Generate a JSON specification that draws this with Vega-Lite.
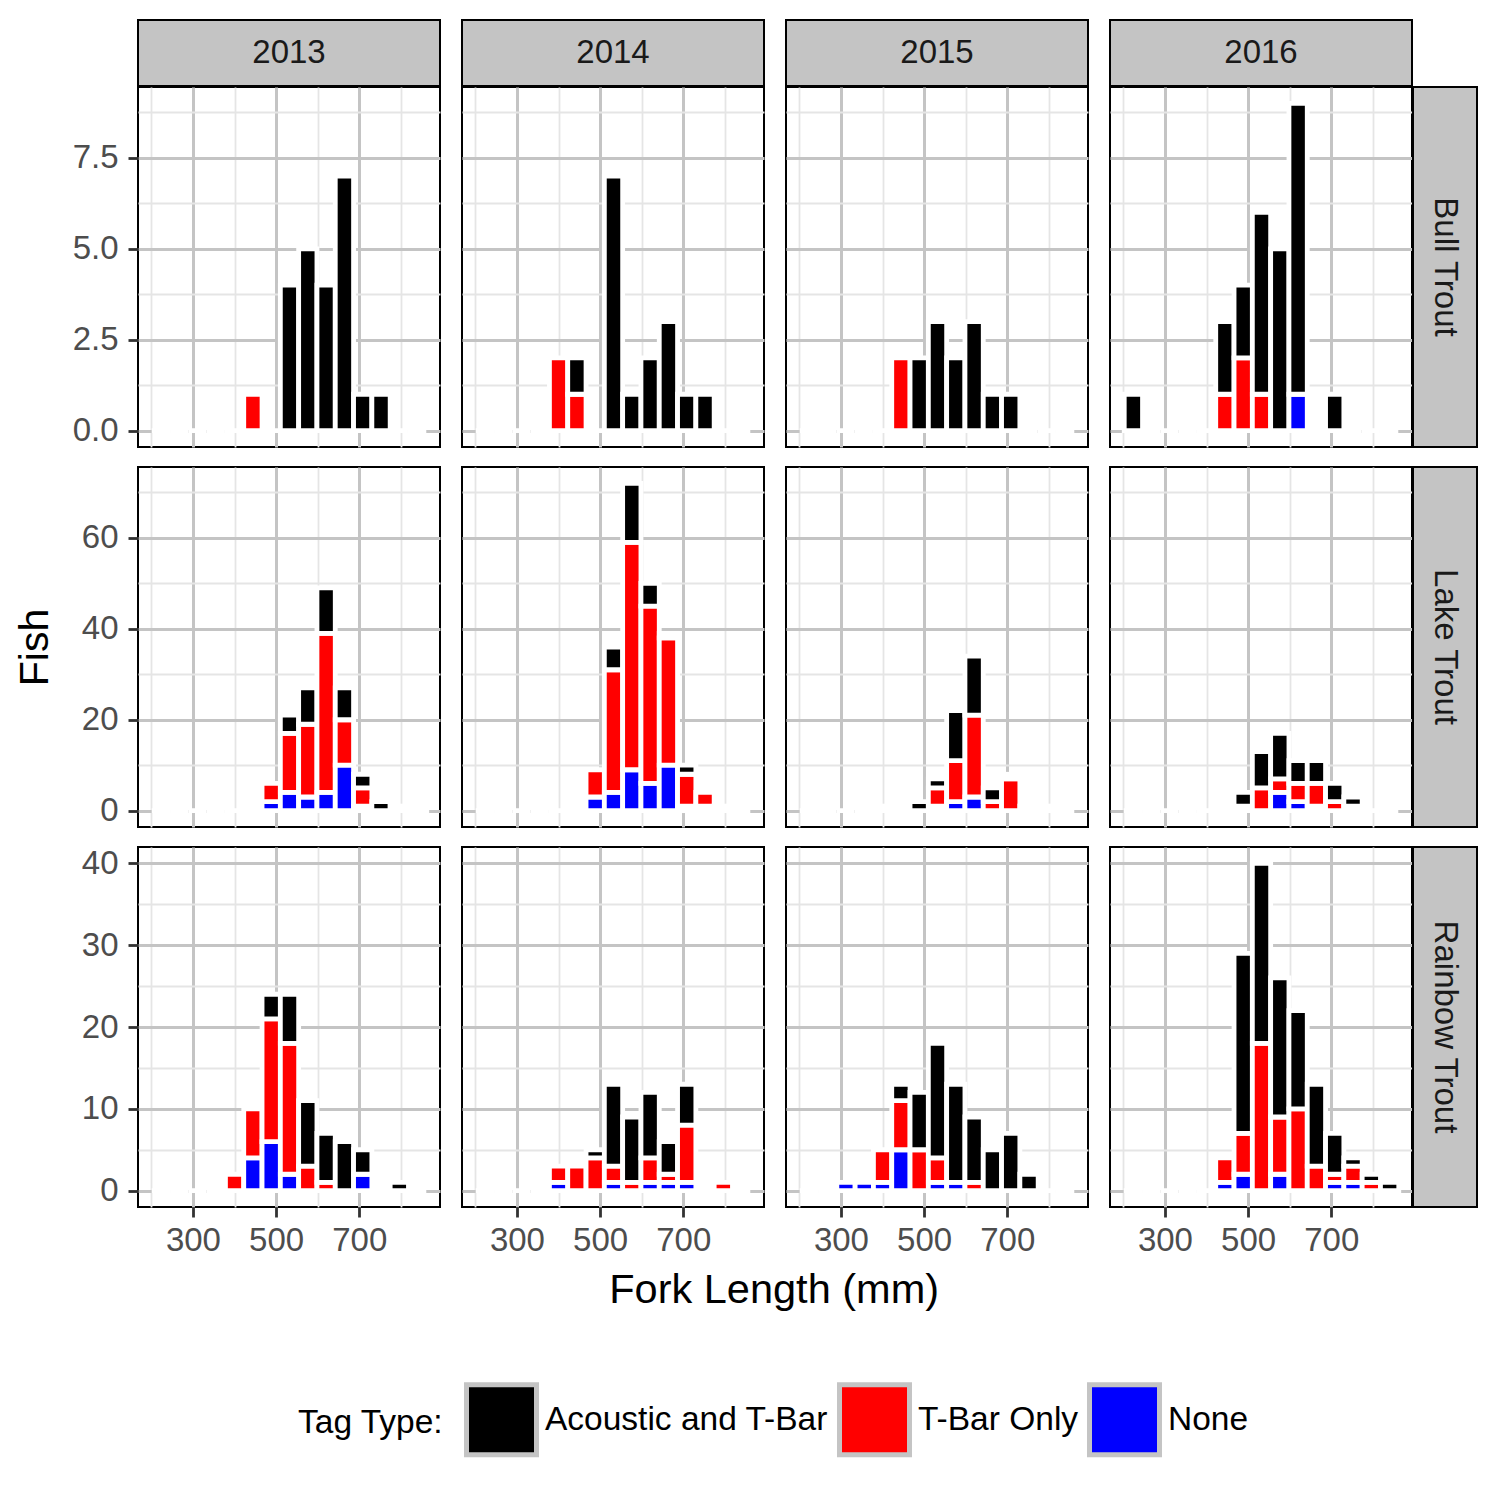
{
  "$schema": "https://vega.github.io/schema/vega-lite/v6.json",
  "background": "white",
  "padding": {"left": 13, "top": 19, "right": 10, "bottom": 10},
  "config": {
    "font": "Liberation Sans",
    "view": {"stroke": "black", "strokeWidth": 2},
    "axis": {
      "labelFont": "Liberation Sans", "labelFontSize": 33, "labelColor": "#4D4D4D",
      "tickColor": "#333333", "tickWidth": 2.8, "tickSize": 10,
      "gridColor": "#C4C4C4", "gridWidth": 3, "domain": false, "labelOverlap": false, "labelFlush": false,
      "titleFont": "Liberation Sans", "titleFontSize": 41, "titleFontWeight": "normal", "titleColor": "#000000", "titlePadding": 25
    },
    "axisX": {"labelPadding": 7},
    "axisY": {"labelPadding": 10},
    "legend": {
      "titleFont": "Liberation Sans", "titleFontSize": 33.5, "titleFontWeight": "normal", "titleColor": "#000000",
      "labelFont": "Liberation Sans", "labelFontSize": 33.5, "labelColor": "#000000",
      "symbolType": "square", "symbolSize": 4900, "symbolStrokeColor": "#C4C4C4", "symbolStrokeWidth": 5,
      "labelOffset": 6, "columnPadding": 0, "titlePadding": 20, "padding": 0, "labelLimit": 0
    },
    "title": {"font": "Liberation Sans", "fontSize": 41, "fontWeight": "normal", "color": "#000000"}
  },
  "datasets": {
    "bins": [
      {"lo": 201, "hi": 245}, {"lo": 245, "hi": 289}, {"lo": 289, "hi": 333}, {"lo": 333, "hi": 377},
      {"lo": 377, "hi": 421}, {"lo": 421, "hi": 465}, {"lo": 465, "hi": 509}, {"lo": 509, "hi": 553},
      {"lo": 553, "hi": 597}, {"lo": 597, "hi": 641}, {"lo": 641, "hi": 685}, {"lo": 685, "hi": 729},
      {"lo": 729, "hi": 773}, {"lo": 773, "hi": 817}, {"lo": 817, "hi": 861}
    ],
    "fish": [
      {"sp": "Bull Trout", "yr": 2013, "tag": "T-Bar Only", "lo": 421, "hi": 465, "n": 1},
      {"sp": "Bull Trout", "yr": 2013, "tag": "Acoustic and T-Bar", "lo": 509, "hi": 553, "n": 4},
      {"sp": "Bull Trout", "yr": 2013, "tag": "Acoustic and T-Bar", "lo": 553, "hi": 597, "n": 5},
      {"sp": "Bull Trout", "yr": 2013, "tag": "Acoustic and T-Bar", "lo": 597, "hi": 641, "n": 4},
      {"sp": "Bull Trout", "yr": 2013, "tag": "Acoustic and T-Bar", "lo": 641, "hi": 685, "n": 7},
      {"sp": "Bull Trout", "yr": 2013, "tag": "Acoustic and T-Bar", "lo": 685, "hi": 729, "n": 1},
      {"sp": "Bull Trout", "yr": 2013, "tag": "Acoustic and T-Bar", "lo": 729, "hi": 773, "n": 1},

      {"sp": "Bull Trout", "yr": 2014, "tag": "T-Bar Only", "lo": 377, "hi": 421, "n": 2},
      {"sp": "Bull Trout", "yr": 2014, "tag": "T-Bar Only", "lo": 421, "hi": 465, "n": 1},
      {"sp": "Bull Trout", "yr": 2014, "tag": "Acoustic and T-Bar", "lo": 421, "hi": 465, "n": 1},
      {"sp": "Bull Trout", "yr": 2014, "tag": "Acoustic and T-Bar", "lo": 509, "hi": 553, "n": 7},
      {"sp": "Bull Trout", "yr": 2014, "tag": "Acoustic and T-Bar", "lo": 553, "hi": 597, "n": 1},
      {"sp": "Bull Trout", "yr": 2014, "tag": "Acoustic and T-Bar", "lo": 597, "hi": 641, "n": 2},
      {"sp": "Bull Trout", "yr": 2014, "tag": "Acoustic and T-Bar", "lo": 641, "hi": 685, "n": 3},
      {"sp": "Bull Trout", "yr": 2014, "tag": "Acoustic and T-Bar", "lo": 685, "hi": 729, "n": 1},
      {"sp": "Bull Trout", "yr": 2014, "tag": "Acoustic and T-Bar", "lo": 729, "hi": 773, "n": 1},

      {"sp": "Bull Trout", "yr": 2015, "tag": "T-Bar Only", "lo": 421, "hi": 465, "n": 2},
      {"sp": "Bull Trout", "yr": 2015, "tag": "Acoustic and T-Bar", "lo": 465, "hi": 509, "n": 2},
      {"sp": "Bull Trout", "yr": 2015, "tag": "Acoustic and T-Bar", "lo": 509, "hi": 553, "n": 3},
      {"sp": "Bull Trout", "yr": 2015, "tag": "Acoustic and T-Bar", "lo": 553, "hi": 597, "n": 2},
      {"sp": "Bull Trout", "yr": 2015, "tag": "Acoustic and T-Bar", "lo": 597, "hi": 641, "n": 3},
      {"sp": "Bull Trout", "yr": 2015, "tag": "Acoustic and T-Bar", "lo": 641, "hi": 685, "n": 1},
      {"sp": "Bull Trout", "yr": 2015, "tag": "Acoustic and T-Bar", "lo": 685, "hi": 729, "n": 1},

      {"sp": "Bull Trout", "yr": 2016, "tag": "Acoustic and T-Bar", "lo": 201, "hi": 245, "n": 1},
      {"sp": "Bull Trout", "yr": 2016, "tag": "T-Bar Only", "lo": 421, "hi": 465, "n": 1},
      {"sp": "Bull Trout", "yr": 2016, "tag": "Acoustic and T-Bar", "lo": 421, "hi": 465, "n": 2},
      {"sp": "Bull Trout", "yr": 2016, "tag": "T-Bar Only", "lo": 465, "hi": 509, "n": 2},
      {"sp": "Bull Trout", "yr": 2016, "tag": "Acoustic and T-Bar", "lo": 465, "hi": 509, "n": 2},
      {"sp": "Bull Trout", "yr": 2016, "tag": "T-Bar Only", "lo": 509, "hi": 553, "n": 1},
      {"sp": "Bull Trout", "yr": 2016, "tag": "Acoustic and T-Bar", "lo": 509, "hi": 553, "n": 5},
      {"sp": "Bull Trout", "yr": 2016, "tag": "Acoustic and T-Bar", "lo": 553, "hi": 597, "n": 5},
      {"sp": "Bull Trout", "yr": 2016, "tag": "None", "lo": 597, "hi": 641, "n": 1},
      {"sp": "Bull Trout", "yr": 2016, "tag": "Acoustic and T-Bar", "lo": 597, "hi": 641, "n": 8},
      {"sp": "Bull Trout", "yr": 2016, "tag": "Acoustic and T-Bar", "lo": 685, "hi": 729, "n": 1},

      {"sp": "Lake Trout", "yr": 2013, "tag": "None", "lo": 421, "hi": 465, "n": 1},
      {"sp": "Lake Trout", "yr": 2013, "tag": "None", "lo": 465, "hi": 509, "n": 2},
      {"sp": "Lake Trout", "yr": 2013, "tag": "T-Bar Only", "lo": 465, "hi": 509, "n": 4},
      {"sp": "Lake Trout", "yr": 2013, "tag": "None", "lo": 509, "hi": 553, "n": 4},
      {"sp": "Lake Trout", "yr": 2013, "tag": "T-Bar Only", "lo": 509, "hi": 553, "n": 13},
      {"sp": "Lake Trout", "yr": 2013, "tag": "Acoustic and T-Bar", "lo": 509, "hi": 553, "n": 4},
      {"sp": "Lake Trout", "yr": 2013, "tag": "None", "lo": 553, "hi": 597, "n": 3},
      {"sp": "Lake Trout", "yr": 2013, "tag": "T-Bar Only", "lo": 553, "hi": 597, "n": 16},
      {"sp": "Lake Trout", "yr": 2013, "tag": "Acoustic and T-Bar", "lo": 553, "hi": 597, "n": 8},
      {"sp": "Lake Trout", "yr": 2013, "tag": "None", "lo": 597, "hi": 641, "n": 4},
      {"sp": "Lake Trout", "yr": 2013, "tag": "T-Bar Only", "lo": 597, "hi": 641, "n": 35},
      {"sp": "Lake Trout", "yr": 2013, "tag": "Acoustic and T-Bar", "lo": 597, "hi": 641, "n": 10},
      {"sp": "Lake Trout", "yr": 2013, "tag": "None", "lo": 641, "hi": 685, "n": 10},
      {"sp": "Lake Trout", "yr": 2013, "tag": "T-Bar Only", "lo": 641, "hi": 685, "n": 10},
      {"sp": "Lake Trout", "yr": 2013, "tag": "Acoustic and T-Bar", "lo": 641, "hi": 685, "n": 7},
      {"sp": "Lake Trout", "yr": 2013, "tag": "None", "lo": 685, "hi": 729, "n": 1},
      {"sp": "Lake Trout", "yr": 2013, "tag": "T-Bar Only", "lo": 685, "hi": 729, "n": 4},
      {"sp": "Lake Trout", "yr": 2013, "tag": "Acoustic and T-Bar", "lo": 685, "hi": 729, "n": 3},
      {"sp": "Lake Trout", "yr": 2013, "tag": "Acoustic and T-Bar", "lo": 729, "hi": 773, "n": 2},
      {"sp": "Lake Trout", "yr": 2013, "tag": "T-Bar Only", "lo": 773, "hi": 817, "n": 1},
      {"sp": "Lake Trout", "yr": 2013, "tag": "T-Bar Only", "lo": 817, "hi": 861, "n": 1},

      {"sp": "Lake Trout", "yr": 2014, "tag": "T-Bar Only", "lo": 421, "hi": 465, "n": 1},
      {"sp": "Lake Trout", "yr": 2014, "tag": "None", "lo": 465, "hi": 509, "n": 3},
      {"sp": "Lake Trout", "yr": 2014, "tag": "T-Bar Only", "lo": 465, "hi": 509, "n": 6},
      {"sp": "Lake Trout", "yr": 2014, "tag": "None", "lo": 509, "hi": 553, "n": 4},
      {"sp": "Lake Trout", "yr": 2014, "tag": "T-Bar Only", "lo": 509, "hi": 553, "n": 27},
      {"sp": "Lake Trout", "yr": 2014, "tag": "Acoustic and T-Bar", "lo": 509, "hi": 553, "n": 5},
      {"sp": "Lake Trout", "yr": 2014, "tag": "None", "lo": 553, "hi": 597, "n": 9},
      {"sp": "Lake Trout", "yr": 2014, "tag": "T-Bar Only", "lo": 553, "hi": 597, "n": 50},
      {"sp": "Lake Trout", "yr": 2014, "tag": "Acoustic and T-Bar", "lo": 553, "hi": 597, "n": 13},
      {"sp": "Lake Trout", "yr": 2014, "tag": "None", "lo": 597, "hi": 641, "n": 6},
      {"sp": "Lake Trout", "yr": 2014, "tag": "T-Bar Only", "lo": 597, "hi": 641, "n": 39},
      {"sp": "Lake Trout", "yr": 2014, "tag": "Acoustic and T-Bar", "lo": 597, "hi": 641, "n": 5},
      {"sp": "Lake Trout", "yr": 2014, "tag": "None", "lo": 641, "hi": 685, "n": 10},
      {"sp": "Lake Trout", "yr": 2014, "tag": "T-Bar Only", "lo": 641, "hi": 685, "n": 28},
      {"sp": "Lake Trout", "yr": 2014, "tag": "Acoustic and T-Bar", "lo": 641, "hi": 685, "n": 1},
      {"sp": "Lake Trout", "yr": 2014, "tag": "None", "lo": 685, "hi": 729, "n": 1},
      {"sp": "Lake Trout", "yr": 2014, "tag": "T-Bar Only", "lo": 685, "hi": 729, "n": 7},
      {"sp": "Lake Trout", "yr": 2014, "tag": "Acoustic and T-Bar", "lo": 685, "hi": 729, "n": 2},
      {"sp": "Lake Trout", "yr": 2014, "tag": "None", "lo": 729, "hi": 773, "n": 1},
      {"sp": "Lake Trout", "yr": 2014, "tag": "T-Bar Only", "lo": 729, "hi": 773, "n": 3},
      {"sp": "Lake Trout", "yr": 2014, "tag": "T-Bar Only", "lo": 773, "hi": 817, "n": 1},

      {"sp": "Lake Trout", "yr": 2015, "tag": "Acoustic and T-Bar", "lo": 377, "hi": 421, "n": 1},
      {"sp": "Lake Trout", "yr": 2015, "tag": "Acoustic and T-Bar", "lo": 465, "hi": 509, "n": 2},
      {"sp": "Lake Trout", "yr": 2015, "tag": "None", "lo": 509, "hi": 553, "n": 1},
      {"sp": "Lake Trout", "yr": 2015, "tag": "T-Bar Only", "lo": 509, "hi": 553, "n": 4},
      {"sp": "Lake Trout", "yr": 2015, "tag": "Acoustic and T-Bar", "lo": 509, "hi": 553, "n": 2},
      {"sp": "Lake Trout", "yr": 2015, "tag": "None", "lo": 553, "hi": 597, "n": 2},
      {"sp": "Lake Trout", "yr": 2015, "tag": "T-Bar Only", "lo": 553, "hi": 597, "n": 9},
      {"sp": "Lake Trout", "yr": 2015, "tag": "Acoustic and T-Bar", "lo": 553, "hi": 597, "n": 11},
      {"sp": "Lake Trout", "yr": 2015, "tag": "None", "lo": 597, "hi": 641, "n": 3},
      {"sp": "Lake Trout", "yr": 2015, "tag": "T-Bar Only", "lo": 597, "hi": 641, "n": 18},
      {"sp": "Lake Trout", "yr": 2015, "tag": "Acoustic and T-Bar", "lo": 597, "hi": 641, "n": 13},
      {"sp": "Lake Trout", "yr": 2015, "tag": "T-Bar Only", "lo": 641, "hi": 685, "n": 2},
      {"sp": "Lake Trout", "yr": 2015, "tag": "Acoustic and T-Bar", "lo": 641, "hi": 685, "n": 3},
      {"sp": "Lake Trout", "yr": 2015, "tag": "T-Bar Only", "lo": 685, "hi": 729, "n": 7},
      {"sp": "Lake Trout", "yr": 2015, "tag": "Acoustic and T-Bar", "lo": 685, "hi": 729, "n": 1},
      {"sp": "Lake Trout", "yr": 2015, "tag": "T-Bar Only", "lo": 729, "hi": 773, "n": 1},
      {"sp": "Lake Trout", "yr": 2015, "tag": "T-Bar Only", "lo": 773, "hi": 817, "n": 1},

      {"sp": "Lake Trout", "yr": 2016, "tag": "T-Bar Only", "lo": 421, "hi": 465, "n": 1},
      {"sp": "Lake Trout", "yr": 2016, "tag": "T-Bar Only", "lo": 465, "hi": 509, "n": 1},
      {"sp": "Lake Trout", "yr": 2016, "tag": "Acoustic and T-Bar", "lo": 465, "hi": 509, "n": 3},
      {"sp": "Lake Trout", "yr": 2016, "tag": "T-Bar Only", "lo": 509, "hi": 553, "n": 5},
      {"sp": "Lake Trout", "yr": 2016, "tag": "Acoustic and T-Bar", "lo": 509, "hi": 553, "n": 8},
      {"sp": "Lake Trout", "yr": 2016, "tag": "None", "lo": 553, "hi": 597, "n": 4},
      {"sp": "Lake Trout", "yr": 2016, "tag": "T-Bar Only", "lo": 553, "hi": 597, "n": 3},
      {"sp": "Lake Trout", "yr": 2016, "tag": "Acoustic and T-Bar", "lo": 553, "hi": 597, "n": 10},
      {"sp": "Lake Trout", "yr": 2016, "tag": "None", "lo": 597, "hi": 641, "n": 2},
      {"sp": "Lake Trout", "yr": 2016, "tag": "T-Bar Only", "lo": 597, "hi": 641, "n": 4},
      {"sp": "Lake Trout", "yr": 2016, "tag": "Acoustic and T-Bar", "lo": 597, "hi": 641, "n": 5},
      {"sp": "Lake Trout", "yr": 2016, "tag": "None", "lo": 641, "hi": 685, "n": 1},
      {"sp": "Lake Trout", "yr": 2016, "tag": "T-Bar Only", "lo": 641, "hi": 685, "n": 5},
      {"sp": "Lake Trout", "yr": 2016, "tag": "Acoustic and T-Bar", "lo": 641, "hi": 685, "n": 5},
      {"sp": "Lake Trout", "yr": 2016, "tag": "T-Bar Only", "lo": 685, "hi": 729, "n": 2},
      {"sp": "Lake Trout", "yr": 2016, "tag": "Acoustic and T-Bar", "lo": 685, "hi": 729, "n": 4},
      {"sp": "Lake Trout", "yr": 2016, "tag": "T-Bar Only", "lo": 729, "hi": 773, "n": 1},
      {"sp": "Lake Trout", "yr": 2016, "tag": "Acoustic and T-Bar", "lo": 729, "hi": 773, "n": 2},

      {"sp": "Rainbow Trout", "yr": 2013, "tag": "T-Bar Only", "lo": 377, "hi": 421, "n": 2},
      {"sp": "Rainbow Trout", "yr": 2013, "tag": "None", "lo": 421, "hi": 465, "n": 4},
      {"sp": "Rainbow Trout", "yr": 2013, "tag": "T-Bar Only", "lo": 421, "hi": 465, "n": 6},
      {"sp": "Rainbow Trout", "yr": 2013, "tag": "None", "lo": 465, "hi": 509, "n": 6},
      {"sp": "Rainbow Trout", "yr": 2013, "tag": "T-Bar Only", "lo": 465, "hi": 509, "n": 15},
      {"sp": "Rainbow Trout", "yr": 2013, "tag": "Acoustic and T-Bar", "lo": 465, "hi": 509, "n": 3},
      {"sp": "Rainbow Trout", "yr": 2013, "tag": "None", "lo": 509, "hi": 553, "n": 2},
      {"sp": "Rainbow Trout", "yr": 2013, "tag": "T-Bar Only", "lo": 509, "hi": 553, "n": 16},
      {"sp": "Rainbow Trout", "yr": 2013, "tag": "Acoustic and T-Bar", "lo": 509, "hi": 553, "n": 6},
      {"sp": "Rainbow Trout", "yr": 2013, "tag": "T-Bar Only", "lo": 553, "hi": 597, "n": 3},
      {"sp": "Rainbow Trout", "yr": 2013, "tag": "Acoustic and T-Bar", "lo": 553, "hi": 597, "n": 8},
      {"sp": "Rainbow Trout", "yr": 2013, "tag": "T-Bar Only", "lo": 597, "hi": 641, "n": 1},
      {"sp": "Rainbow Trout", "yr": 2013, "tag": "Acoustic and T-Bar", "lo": 597, "hi": 641, "n": 6},
      {"sp": "Rainbow Trout", "yr": 2013, "tag": "Acoustic and T-Bar", "lo": 641, "hi": 685, "n": 6},
      {"sp": "Rainbow Trout", "yr": 2013, "tag": "None", "lo": 685, "hi": 729, "n": 2},
      {"sp": "Rainbow Trout", "yr": 2013, "tag": "Acoustic and T-Bar", "lo": 685, "hi": 729, "n": 3},
      {"sp": "Rainbow Trout", "yr": 2013, "tag": "Acoustic and T-Bar", "lo": 773, "hi": 817, "n": 1},

      {"sp": "Rainbow Trout", "yr": 2014, "tag": "None", "lo": 377, "hi": 421, "n": 1},
      {"sp": "Rainbow Trout", "yr": 2014, "tag": "T-Bar Only", "lo": 377, "hi": 421, "n": 2},
      {"sp": "Rainbow Trout", "yr": 2014, "tag": "T-Bar Only", "lo": 421, "hi": 465, "n": 3},
      {"sp": "Rainbow Trout", "yr": 2014, "tag": "T-Bar Only", "lo": 465, "hi": 509, "n": 4},
      {"sp": "Rainbow Trout", "yr": 2014, "tag": "Acoustic and T-Bar", "lo": 465, "hi": 509, "n": 1},
      {"sp": "Rainbow Trout", "yr": 2014, "tag": "None", "lo": 509, "hi": 553, "n": 1},
      {"sp": "Rainbow Trout", "yr": 2014, "tag": "T-Bar Only", "lo": 509, "hi": 553, "n": 2},
      {"sp": "Rainbow Trout", "yr": 2014, "tag": "Acoustic and T-Bar", "lo": 509, "hi": 553, "n": 10},
      {"sp": "Rainbow Trout", "yr": 2014, "tag": "T-Bar Only", "lo": 553, "hi": 597, "n": 1},
      {"sp": "Rainbow Trout", "yr": 2014, "tag": "Acoustic and T-Bar", "lo": 553, "hi": 597, "n": 8},
      {"sp": "Rainbow Trout", "yr": 2014, "tag": "None", "lo": 597, "hi": 641, "n": 1},
      {"sp": "Rainbow Trout", "yr": 2014, "tag": "T-Bar Only", "lo": 597, "hi": 641, "n": 3},
      {"sp": "Rainbow Trout", "yr": 2014, "tag": "Acoustic and T-Bar", "lo": 597, "hi": 641, "n": 8},
      {"sp": "Rainbow Trout", "yr": 2014, "tag": "None", "lo": 641, "hi": 685, "n": 1},
      {"sp": "Rainbow Trout", "yr": 2014, "tag": "T-Bar Only", "lo": 641, "hi": 685, "n": 1},
      {"sp": "Rainbow Trout", "yr": 2014, "tag": "Acoustic and T-Bar", "lo": 641, "hi": 685, "n": 4},
      {"sp": "Rainbow Trout", "yr": 2014, "tag": "None", "lo": 685, "hi": 729, "n": 1},
      {"sp": "Rainbow Trout", "yr": 2014, "tag": "T-Bar Only", "lo": 685, "hi": 729, "n": 7},
      {"sp": "Rainbow Trout", "yr": 2014, "tag": "Acoustic and T-Bar", "lo": 685, "hi": 729, "n": 5},
      {"sp": "Rainbow Trout", "yr": 2014, "tag": "T-Bar Only", "lo": 773, "hi": 817, "n": 1},

      {"sp": "Rainbow Trout", "yr": 2015, "tag": "None", "lo": 289, "hi": 333, "n": 1},
      {"sp": "Rainbow Trout", "yr": 2015, "tag": "None", "lo": 333, "hi": 377, "n": 1},
      {"sp": "Rainbow Trout", "yr": 2015, "tag": "None", "lo": 377, "hi": 421, "n": 1},
      {"sp": "Rainbow Trout", "yr": 2015, "tag": "T-Bar Only", "lo": 377, "hi": 421, "n": 4},
      {"sp": "Rainbow Trout", "yr": 2015, "tag": "None", "lo": 421, "hi": 465, "n": 5},
      {"sp": "Rainbow Trout", "yr": 2015, "tag": "T-Bar Only", "lo": 421, "hi": 465, "n": 6},
      {"sp": "Rainbow Trout", "yr": 2015, "tag": "Acoustic and T-Bar", "lo": 421, "hi": 465, "n": 2},
      {"sp": "Rainbow Trout", "yr": 2015, "tag": "T-Bar Only", "lo": 465, "hi": 509, "n": 5},
      {"sp": "Rainbow Trout", "yr": 2015, "tag": "Acoustic and T-Bar", "lo": 465, "hi": 509, "n": 7},
      {"sp": "Rainbow Trout", "yr": 2015, "tag": "None", "lo": 509, "hi": 553, "n": 1},
      {"sp": "Rainbow Trout", "yr": 2015, "tag": "T-Bar Only", "lo": 509, "hi": 553, "n": 3},
      {"sp": "Rainbow Trout", "yr": 2015, "tag": "Acoustic and T-Bar", "lo": 509, "hi": 553, "n": 14},
      {"sp": "Rainbow Trout", "yr": 2015, "tag": "None", "lo": 553, "hi": 597, "n": 1},
      {"sp": "Rainbow Trout", "yr": 2015, "tag": "Acoustic and T-Bar", "lo": 553, "hi": 597, "n": 12},
      {"sp": "Rainbow Trout", "yr": 2015, "tag": "T-Bar Only", "lo": 597, "hi": 641, "n": 1},
      {"sp": "Rainbow Trout", "yr": 2015, "tag": "Acoustic and T-Bar", "lo": 597, "hi": 641, "n": 8},
      {"sp": "Rainbow Trout", "yr": 2015, "tag": "Acoustic and T-Bar", "lo": 641, "hi": 685, "n": 5},
      {"sp": "Rainbow Trout", "yr": 2015, "tag": "Acoustic and T-Bar", "lo": 685, "hi": 729, "n": 7},
      {"sp": "Rainbow Trout", "yr": 2015, "tag": "Acoustic and T-Bar", "lo": 729, "hi": 773, "n": 2},

      {"sp": "Rainbow Trout", "yr": 2016, "tag": "None", "lo": 421, "hi": 465, "n": 1},
      {"sp": "Rainbow Trout", "yr": 2016, "tag": "T-Bar Only", "lo": 421, "hi": 465, "n": 3},
      {"sp": "Rainbow Trout", "yr": 2016, "tag": "None", "lo": 465, "hi": 509, "n": 2},
      {"sp": "Rainbow Trout", "yr": 2016, "tag": "T-Bar Only", "lo": 465, "hi": 509, "n": 5},
      {"sp": "Rainbow Trout", "yr": 2016, "tag": "Acoustic and T-Bar", "lo": 465, "hi": 509, "n": 22},
      {"sp": "Rainbow Trout", "yr": 2016, "tag": "T-Bar Only", "lo": 509, "hi": 553, "n": 18},
      {"sp": "Rainbow Trout", "yr": 2016, "tag": "Acoustic and T-Bar", "lo": 509, "hi": 553, "n": 22},
      {"sp": "Rainbow Trout", "yr": 2016, "tag": "None", "lo": 553, "hi": 597, "n": 2},
      {"sp": "Rainbow Trout", "yr": 2016, "tag": "T-Bar Only", "lo": 553, "hi": 597, "n": 7},
      {"sp": "Rainbow Trout", "yr": 2016, "tag": "Acoustic and T-Bar", "lo": 553, "hi": 597, "n": 17},
      {"sp": "Rainbow Trout", "yr": 2016, "tag": "T-Bar Only", "lo": 597, "hi": 641, "n": 10},
      {"sp": "Rainbow Trout", "yr": 2016, "tag": "Acoustic and T-Bar", "lo": 597, "hi": 641, "n": 12},
      {"sp": "Rainbow Trout", "yr": 2016, "tag": "T-Bar Only", "lo": 641, "hi": 685, "n": 3},
      {"sp": "Rainbow Trout", "yr": 2016, "tag": "Acoustic and T-Bar", "lo": 641, "hi": 685, "n": 10},
      {"sp": "Rainbow Trout", "yr": 2016, "tag": "None", "lo": 685, "hi": 729, "n": 1},
      {"sp": "Rainbow Trout", "yr": 2016, "tag": "T-Bar Only", "lo": 685, "hi": 729, "n": 1},
      {"sp": "Rainbow Trout", "yr": 2016, "tag": "Acoustic and T-Bar", "lo": 685, "hi": 729, "n": 5},
      {"sp": "Rainbow Trout", "yr": 2016, "tag": "None", "lo": 729, "hi": 773, "n": 1},
      {"sp": "Rainbow Trout", "yr": 2016, "tag": "T-Bar Only", "lo": 729, "hi": 773, "n": 2},
      {"sp": "Rainbow Trout", "yr": 2016, "tag": "Acoustic and T-Bar", "lo": 729, "hi": 773, "n": 1},
      {"sp": "Rainbow Trout", "yr": 2016, "tag": "T-Bar Only", "lo": 773, "hi": 817, "n": 1},
      {"sp": "Rainbow Trout", "yr": 2016, "tag": "Acoustic and T-Bar", "lo": 773, "hi": 817, "n": 1},
      {"sp": "Rainbow Trout", "yr": 2016, "tag": "Acoustic and T-Bar", "lo": 817, "hi": 861, "n": 1}
    ]
  },
  "spacing": 17,
  "vconcat": [
    {
      "spacing": -2,
      "vconcat": [
        {
          "spacing": 20,
          "hconcat": [
            {"width": 302, "height": 66, "view": {"fill": "#C4C4C4", "stroke": "black", "strokeWidth": 2}, "data": {"values": [{"t": "2013"}]}, "mark": {"type": "text", "fontSize": 33, "font": "Liberation Sans", "color": "#1A1A1A"}, "encoding": {"text": {"field": "t", "type": "nominal"}}},
            {"width": 302, "height": 66, "view": {"fill": "#C4C4C4", "stroke": "black", "strokeWidth": 2}, "data": {"values": [{"t": "2014"}]}, "mark": {"type": "text", "fontSize": 33, "font": "Liberation Sans", "color": "#1A1A1A"}, "encoding": {"text": {"field": "t", "type": "nominal"}}},
            {"width": 302, "height": 66, "view": {"fill": "#C4C4C4", "stroke": "black", "strokeWidth": 2}, "data": {"values": [{"t": "2015"}]}, "mark": {"type": "text", "fontSize": 33, "font": "Liberation Sans", "color": "#1A1A1A"}, "encoding": {"text": {"field": "t", "type": "nominal"}}},
            {"width": 302, "height": 66, "view": {"fill": "#C4C4C4", "stroke": "black", "strokeWidth": 2}, "data": {"values": [{"t": "2016"}]}, "mark": {"type": "text", "fontSize": 33, "font": "Liberation Sans", "color": "#1A1A1A"}, "encoding": {"text": {"field": "t", "type": "nominal"}}}
          ]
        },
        {
          "spacing": 20,
          "hconcat": [
            {
              "width": 302, "height": 360,
              "resolve": {"axis": {"x": "independent", "y": "independent"}},
              "layer": [
                {"data": {"name": "bins"}, "mark": {"type": "rect", "fill": "white", "stroke": "white", "strokeWidth": 4.8},
                 "encoding": {
                   "x": {"field": "lo", "type": "quantitative", "scale": {"domain": [168, 894], "nice": false, "zero": false}, "axis": {"orient": "bottom", "values": [200, 400, 600, 800], "grid": true, "gridColor": "#E5E5E5", "gridWidth": 1.8, "labels": false, "ticks": false, "domain": false, "title": null}},
                   "x2": {"field": "hi"},
                   "y": {"datum": 0, "type": "quantitative", "scale": {"domain": [-0.45, 9.45], "nice": false, "zero": false}, "axis": {"orient": "left", "values": [1.25, 3.75, 6.25, 8.75], "grid": true, "gridColor": "#E5E5E5", "gridWidth": 1.8, "labels": false, "ticks": false, "domain": false, "title": null}},
                   "y2": {"datum": 0}}},
                {"data": {"name": "fish"},
                 "transform": [{"filter": "datum.sp === 'Bull Trout' && datum.yr === 2013"}, {"calculate": "indexof(['None','T-Bar Only','Acoustic and T-Bar'], datum.tag)", "as": "ord"}],
                 "mark": {"type": "bar", "stroke": "white", "strokeWidth": 4.8, "binSpacing": 0},
                 "encoding": {
                   "x": {"field": "lo", "type": "quantitative", "bin": {"binned": true}, "scale": {"domain": [168, 894], "nice": false, "zero": false}, "axis": {"orient": "bottom", "values": [300, 500, 700], "grid": true, "labels": false, "ticks": false, "domain": false, "title": null}},
                   "x2": {"field": "hi"},
                   "y": {"field": "n", "type": "quantitative", "stack": "zero", "scale": {"domain": [-0.45, 9.45], "nice": false, "zero": false}, "axis": {"orient": "left", "values": [0, 2.5, 5, 7.5], "format": ".1f", "grid": true, "labels": true, "ticks": true, "domain": false, "title": null}},
                   "color": {"field": "tag", "type": "nominal", "scale": {"domain": ["Acoustic and T-Bar", "T-Bar Only", "None"], "range": ["#000000", "#FF0000", "#0000FF"]}, "legend": {"title": "Tag Type:", "orient": "none", "legendX": 160, "legendY": 1362, "direction": "horizontal", "titleOrient": "left", "titleAnchor": "middle", "titleBaseline": "middle", "symbolStrokeColor": "#C4C4C4", "symbolStrokeWidth": 5}},
                   "order": {"field": "ord", "type": "quantitative", "sort": "ascending"}}}
              ]
            },
            {
              "width": 302, "height": 360,
              "resolve": {"axis": {"x": "independent", "y": "independent"}},
              "layer": [
                {"data": {"name": "bins"}, "mark": {"type": "rect", "fill": "white", "stroke": "white", "strokeWidth": 4.8},
                 "encoding": {
                   "x": {"field": "lo", "type": "quantitative", "scale": {"domain": [168, 894], "nice": false, "zero": false}, "axis": {"orient": "bottom", "values": [200, 400, 600, 800], "grid": true, "gridColor": "#E5E5E5", "gridWidth": 1.8, "labels": false, "ticks": false, "domain": false, "title": null}},
                   "x2": {"field": "hi"},
                   "y": {"datum": 0, "type": "quantitative", "scale": {"domain": [-0.45, 9.45], "nice": false, "zero": false}, "axis": {"orient": "left", "values": [1.25, 3.75, 6.25, 8.75], "grid": true, "gridColor": "#E5E5E5", "gridWidth": 1.8, "labels": false, "ticks": false, "domain": false, "title": null}},
                   "y2": {"datum": 0}}},
                {"data": {"name": "fish"},
                 "transform": [{"filter": "datum.sp === 'Bull Trout' && datum.yr === 2014"}, {"calculate": "indexof(['None','T-Bar Only','Acoustic and T-Bar'], datum.tag)", "as": "ord"}],
                 "mark": {"type": "bar", "stroke": "white", "strokeWidth": 4.8, "binSpacing": 0},
                 "encoding": {
                   "x": {"field": "lo", "type": "quantitative", "bin": {"binned": true}, "scale": {"domain": [168, 894], "nice": false, "zero": false}, "axis": {"orient": "bottom", "values": [300, 500, 700], "grid": true, "labels": false, "ticks": false, "domain": false, "title": null}},
                   "x2": {"field": "hi"},
                   "y": {"field": "n", "type": "quantitative", "stack": "zero", "scale": {"domain": [-0.45, 9.45], "nice": false, "zero": false}, "axis": {"orient": "left", "values": [0, 2.5, 5, 7.5], "grid": true, "labels": false, "ticks": false, "domain": false, "title": null}},
                   "color": {"field": "tag", "type": "nominal", "scale": {"domain": ["Acoustic and T-Bar", "T-Bar Only", "None"], "range": ["#000000", "#FF0000", "#0000FF"]}, "legend": {"title": "Tag Type:", "orient": "none", "legendX": 160, "legendY": 1362, "direction": "horizontal", "titleOrient": "left", "titleAnchor": "middle", "titleBaseline": "middle", "symbolStrokeColor": "#C4C4C4", "symbolStrokeWidth": 5}},
                   "order": {"field": "ord", "type": "quantitative", "sort": "ascending"}}}
              ]
            },
            {
              "width": 302, "height": 360,
              "resolve": {"axis": {"x": "independent", "y": "independent"}},
              "layer": [
                {"data": {"name": "bins"}, "mark": {"type": "rect", "fill": "white", "stroke": "white", "strokeWidth": 4.8},
                 "encoding": {
                   "x": {"field": "lo", "type": "quantitative", "scale": {"domain": [168, 894], "nice": false, "zero": false}, "axis": {"orient": "bottom", "values": [200, 400, 600, 800], "grid": true, "gridColor": "#E5E5E5", "gridWidth": 1.8, "labels": false, "ticks": false, "domain": false, "title": null}},
                   "x2": {"field": "hi"},
                   "y": {"datum": 0, "type": "quantitative", "scale": {"domain": [-0.45, 9.45], "nice": false, "zero": false}, "axis": {"orient": "left", "values": [1.25, 3.75, 6.25, 8.75], "grid": true, "gridColor": "#E5E5E5", "gridWidth": 1.8, "labels": false, "ticks": false, "domain": false, "title": null}},
                   "y2": {"datum": 0}}},
                {"data": {"name": "fish"},
                 "transform": [{"filter": "datum.sp === 'Bull Trout' && datum.yr === 2015"}, {"calculate": "indexof(['None','T-Bar Only','Acoustic and T-Bar'], datum.tag)", "as": "ord"}],
                 "mark": {"type": "bar", "stroke": "white", "strokeWidth": 4.8, "binSpacing": 0},
                 "encoding": {
                   "x": {"field": "lo", "type": "quantitative", "bin": {"binned": true}, "scale": {"domain": [168, 894], "nice": false, "zero": false}, "axis": {"orient": "bottom", "values": [300, 500, 700], "grid": true, "labels": false, "ticks": false, "domain": false, "title": null}},
                   "x2": {"field": "hi"},
                   "y": {"field": "n", "type": "quantitative", "stack": "zero", "scale": {"domain": [-0.45, 9.45], "nice": false, "zero": false}, "axis": {"orient": "left", "values": [0, 2.5, 5, 7.5], "grid": true, "labels": false, "ticks": false, "domain": false, "title": null}},
                   "color": {"field": "tag", "type": "nominal", "scale": {"domain": ["Acoustic and T-Bar", "T-Bar Only", "None"], "range": ["#000000", "#FF0000", "#0000FF"]}, "legend": {"title": "Tag Type:", "orient": "none", "legendX": 160, "legendY": 1362, "direction": "horizontal", "titleOrient": "left", "titleAnchor": "middle", "titleBaseline": "middle", "symbolStrokeColor": "#C4C4C4", "symbolStrokeWidth": 5}},
                   "order": {"field": "ord", "type": "quantitative", "sort": "ascending"}}}
              ]
            },
            {
              "spacing": -2,
              "hconcat": [
                {
                  "width": 302, "height": 360,
                  "resolve": {"axis": {"x": "independent", "y": "independent"}},
                  "layer": [
                    {"data": {"name": "bins"}, "mark": {"type": "rect", "fill": "white", "stroke": "white", "strokeWidth": 4.8},
                     "encoding": {
                       "x": {"field": "lo", "type": "quantitative", "scale": {"domain": [168, 894], "nice": false, "zero": false}, "axis": {"orient": "bottom", "values": [200, 400, 600, 800], "grid": true, "gridColor": "#E5E5E5", "gridWidth": 1.8, "labels": false, "ticks": false, "domain": false, "title": null}},
                       "x2": {"field": "hi"},
                       "y": {"datum": 0, "type": "quantitative", "scale": {"domain": [-0.45, 9.45], "nice": false, "zero": false}, "axis": {"orient": "left", "values": [1.25, 3.75, 6.25, 8.75], "grid": true, "gridColor": "#E5E5E5", "gridWidth": 1.8, "labels": false, "ticks": false, "domain": false, "title": null}},
                       "y2": {"datum": 0}}},
                    {"data": {"name": "fish"},
                     "transform": [{"filter": "datum.sp === 'Bull Trout' && datum.yr === 2016"}, {"calculate": "indexof(['None','T-Bar Only','Acoustic and T-Bar'], datum.tag)", "as": "ord"}],
                     "mark": {"type": "bar", "stroke": "white", "strokeWidth": 4.8, "binSpacing": 0},
                     "encoding": {
                       "x": {"field": "lo", "type": "quantitative", "bin": {"binned": true}, "scale": {"domain": [168, 894], "nice": false, "zero": false}, "axis": {"orient": "bottom", "values": [300, 500, 700], "grid": true, "labels": false, "ticks": false, "domain": false, "title": null}},
                       "x2": {"field": "hi"},
                       "y": {"field": "n", "type": "quantitative", "stack": "zero", "scale": {"domain": [-0.45, 9.45], "nice": false, "zero": false}, "axis": {"orient": "left", "values": [0, 2.5, 5, 7.5], "grid": true, "labels": false, "ticks": false, "domain": false, "title": null}},
                       "color": {"field": "tag", "type": "nominal", "scale": {"domain": ["Acoustic and T-Bar", "T-Bar Only", "None"], "range": ["#000000", "#FF0000", "#0000FF"]}, "legend": {"title": "Tag Type:", "orient": "none", "legendX": 160, "legendY": 1362, "direction": "horizontal", "titleOrient": "left", "titleAnchor": "middle", "titleBaseline": "middle", "symbolStrokeColor": "#C4C4C4", "symbolStrokeWidth": 5}},
                       "order": {"field": "ord", "type": "quantitative", "sort": "ascending"}}}
                  ]
                },
                {"width": 64, "height": 360, "view": {"fill": "#C4C4C4", "stroke": "black", "strokeWidth": 2}, "data": {"values": [{"t": "Bull Trout"}]}, "mark": {"type": "text", "fontSize": 33, "font": "Liberation Sans", "color": "#1A1A1A", "angle": 90}, "encoding": {"text": {"field": "t", "type": "nominal"}}}
              ]
            }
          ]
        }
      ]
    },
    {
      "spacing": 20,
      "hconcat": [
        {
          "width": 302, "height": 360,
          "resolve": {"axis": {"x": "independent", "y": "independent"}},
          "layer": [
            {"data": {"name": "bins"}, "mark": {"type": "rect", "fill": "white", "stroke": "white", "strokeWidth": 4.8},
             "encoding": {
               "x": {"field": "lo", "type": "quantitative", "scale": {"domain": [168, 894], "nice": false, "zero": false}, "axis": {"orient": "bottom", "values": [200, 400, 600, 800], "grid": true, "gridColor": "#E5E5E5", "gridWidth": 1.8, "labels": false, "ticks": false, "domain": false, "title": null}},
               "x2": {"field": "hi"},
               "y": {"datum": 0, "type": "quantitative", "scale": {"domain": [-3.6, 75.6], "nice": false, "zero": false}, "axis": {"orient": "left", "values": [10, 30, 50, 70], "grid": true, "gridColor": "#E5E5E5", "gridWidth": 1.8, "labels": false, "ticks": false, "domain": false, "title": null}},
               "y2": {"datum": 0}}},
            {"data": {"name": "fish"},
             "transform": [{"filter": "datum.sp === 'Lake Trout' && datum.yr === 2013"}, {"calculate": "indexof(['None','T-Bar Only','Acoustic and T-Bar'], datum.tag)", "as": "ord"}],
             "mark": {"type": "bar", "stroke": "white", "strokeWidth": 4.8, "binSpacing": 0},
             "encoding": {
               "x": {"field": "lo", "type": "quantitative", "bin": {"binned": true}, "scale": {"domain": [168, 894], "nice": false, "zero": false}, "axis": {"orient": "bottom", "values": [300, 500, 700], "grid": true, "labels": false, "ticks": false, "domain": false, "title": null}},
               "x2": {"field": "hi"},
               "y": {"field": "n", "type": "quantitative", "stack": "zero", "scale": {"domain": [-3.6, 75.6], "nice": false, "zero": false}, "axis": {"orient": "left", "values": [0, 20, 40, 60], "grid": true, "labels": true, "ticks": true, "domain": false, "title": "Fish"}},
               "color": {"field": "tag", "type": "nominal", "scale": {"domain": ["Acoustic and T-Bar", "T-Bar Only", "None"], "range": ["#000000", "#FF0000", "#0000FF"]}, "legend": {"title": "Tag Type:", "orient": "none", "legendX": 160, "legendY": 1362, "direction": "horizontal", "titleOrient": "left", "titleAnchor": "middle", "titleBaseline": "middle", "symbolStrokeColor": "#C4C4C4", "symbolStrokeWidth": 5}},
               "order": {"field": "ord", "type": "quantitative", "sort": "ascending"}}}
          ]
        },
        {
          "width": 302, "height": 360,
          "resolve": {"axis": {"x": "independent", "y": "independent"}},
          "layer": [
            {"data": {"name": "bins"}, "mark": {"type": "rect", "fill": "white", "stroke": "white", "strokeWidth": 4.8},
             "encoding": {
               "x": {"field": "lo", "type": "quantitative", "scale": {"domain": [168, 894], "nice": false, "zero": false}, "axis": {"orient": "bottom", "values": [200, 400, 600, 800], "grid": true, "gridColor": "#E5E5E5", "gridWidth": 1.8, "labels": false, "ticks": false, "domain": false, "title": null}},
               "x2": {"field": "hi"},
               "y": {"datum": 0, "type": "quantitative", "scale": {"domain": [-3.6, 75.6], "nice": false, "zero": false}, "axis": {"orient": "left", "values": [10, 30, 50, 70], "grid": true, "gridColor": "#E5E5E5", "gridWidth": 1.8, "labels": false, "ticks": false, "domain": false, "title": null}},
               "y2": {"datum": 0}}},
            {"data": {"name": "fish"},
             "transform": [{"filter": "datum.sp === 'Lake Trout' && datum.yr === 2014"}, {"calculate": "indexof(['None','T-Bar Only','Acoustic and T-Bar'], datum.tag)", "as": "ord"}],
             "mark": {"type": "bar", "stroke": "white", "strokeWidth": 4.8, "binSpacing": 0},
             "encoding": {
               "x": {"field": "lo", "type": "quantitative", "bin": {"binned": true}, "scale": {"domain": [168, 894], "nice": false, "zero": false}, "axis": {"orient": "bottom", "values": [300, 500, 700], "grid": true, "labels": false, "ticks": false, "domain": false, "title": null}},
               "x2": {"field": "hi"},
               "y": {"field": "n", "type": "quantitative", "stack": "zero", "scale": {"domain": [-3.6, 75.6], "nice": false, "zero": false}, "axis": {"orient": "left", "values": [0, 20, 40, 60], "grid": true, "labels": false, "ticks": false, "domain": false, "title": null}},
               "color": {"field": "tag", "type": "nominal", "scale": {"domain": ["Acoustic and T-Bar", "T-Bar Only", "None"], "range": ["#000000", "#FF0000", "#0000FF"]}, "legend": {"title": "Tag Type:", "orient": "none", "legendX": 160, "legendY": 1362, "direction": "horizontal", "titleOrient": "left", "titleAnchor": "middle", "titleBaseline": "middle", "symbolStrokeColor": "#C4C4C4", "symbolStrokeWidth": 5}},
               "order": {"field": "ord", "type": "quantitative", "sort": "ascending"}}}
          ]
        },
        {
          "width": 302, "height": 360,
          "resolve": {"axis": {"x": "independent", "y": "independent"}},
          "layer": [
            {"data": {"name": "bins"}, "mark": {"type": "rect", "fill": "white", "stroke": "white", "strokeWidth": 4.8},
             "encoding": {
               "x": {"field": "lo", "type": "quantitative", "scale": {"domain": [168, 894], "nice": false, "zero": false}, "axis": {"orient": "bottom", "values": [200, 400, 600, 800], "grid": true, "gridColor": "#E5E5E5", "gridWidth": 1.8, "labels": false, "ticks": false, "domain": false, "title": null}},
               "x2": {"field": "hi"},
               "y": {"datum": 0, "type": "quantitative", "scale": {"domain": [-3.6, 75.6], "nice": false, "zero": false}, "axis": {"orient": "left", "values": [10, 30, 50, 70], "grid": true, "gridColor": "#E5E5E5", "gridWidth": 1.8, "labels": false, "ticks": false, "domain": false, "title": null}},
               "y2": {"datum": 0}}},
            {"data": {"name": "fish"},
             "transform": [{"filter": "datum.sp === 'Lake Trout' && datum.yr === 2015"}, {"calculate": "indexof(['None','T-Bar Only','Acoustic and T-Bar'], datum.tag)", "as": "ord"}],
             "mark": {"type": "bar", "stroke": "white", "strokeWidth": 4.8, "binSpacing": 0},
             "encoding": {
               "x": {"field": "lo", "type": "quantitative", "bin": {"binned": true}, "scale": {"domain": [168, 894], "nice": false, "zero": false}, "axis": {"orient": "bottom", "values": [300, 500, 700], "grid": true, "labels": false, "ticks": false, "domain": false, "title": null}},
               "x2": {"field": "hi"},
               "y": {"field": "n", "type": "quantitative", "stack": "zero", "scale": {"domain": [-3.6, 75.6], "nice": false, "zero": false}, "axis": {"orient": "left", "values": [0, 20, 40, 60], "grid": true, "labels": false, "ticks": false, "domain": false, "title": null}},
               "color": {"field": "tag", "type": "nominal", "scale": {"domain": ["Acoustic and T-Bar", "T-Bar Only", "None"], "range": ["#000000", "#FF0000", "#0000FF"]}, "legend": {"title": "Tag Type:", "orient": "none", "legendX": 160, "legendY": 1362, "direction": "horizontal", "titleOrient": "left", "titleAnchor": "middle", "titleBaseline": "middle", "symbolStrokeColor": "#C4C4C4", "symbolStrokeWidth": 5}},
               "order": {"field": "ord", "type": "quantitative", "sort": "ascending"}}}
          ]
        },
        {
          "spacing": -2,
          "hconcat": [
            {
              "width": 302, "height": 360,
              "resolve": {"axis": {"x": "independent", "y": "independent"}},
              "layer": [
                {"data": {"name": "bins"}, "mark": {"type": "rect", "fill": "white", "stroke": "white", "strokeWidth": 4.8},
                 "encoding": {
                   "x": {"field": "lo", "type": "quantitative", "scale": {"domain": [168, 894], "nice": false, "zero": false}, "axis": {"orient": "bottom", "values": [200, 400, 600, 800], "grid": true, "gridColor": "#E5E5E5", "gridWidth": 1.8, "labels": false, "ticks": false, "domain": false, "title": null}},
                   "x2": {"field": "hi"},
                   "y": {"datum": 0, "type": "quantitative", "scale": {"domain": [-3.6, 75.6], "nice": false, "zero": false}, "axis": {"orient": "left", "values": [10, 30, 50, 70], "grid": true, "gridColor": "#E5E5E5", "gridWidth": 1.8, "labels": false, "ticks": false, "domain": false, "title": null}},
                   "y2": {"datum": 0}}},
                {"data": {"name": "fish"},
                 "transform": [{"filter": "datum.sp === 'Lake Trout' && datum.yr === 2016"}, {"calculate": "indexof(['None','T-Bar Only','Acoustic and T-Bar'], datum.tag)", "as": "ord"}],
                 "mark": {"type": "bar", "stroke": "white", "strokeWidth": 4.8, "binSpacing": 0},
                 "encoding": {
                   "x": {"field": "lo", "type": "quantitative", "bin": {"binned": true}, "scale": {"domain": [168, 894], "nice": false, "zero": false}, "axis": {"orient": "bottom", "values": [300, 500, 700], "grid": true, "labels": false, "ticks": false, "domain": false, "title": null}},
                   "x2": {"field": "hi"},
                   "y": {"field": "n", "type": "quantitative", "stack": "zero", "scale": {"domain": [-3.6, 75.6], "nice": false, "zero": false}, "axis": {"orient": "left", "values": [0, 20, 40, 60], "grid": true, "labels": false, "ticks": false, "domain": false, "title": null}},
                   "color": {"field": "tag", "type": "nominal", "scale": {"domain": ["Acoustic and T-Bar", "T-Bar Only", "None"], "range": ["#000000", "#FF0000", "#0000FF"]}, "legend": {"title": "Tag Type:", "orient": "none", "legendX": 160, "legendY": 1362, "direction": "horizontal", "titleOrient": "left", "titleAnchor": "middle", "titleBaseline": "middle", "symbolStrokeColor": "#C4C4C4", "symbolStrokeWidth": 5}},
                   "order": {"field": "ord", "type": "quantitative", "sort": "ascending"}}}
              ]
            },
            {"width": 64, "height": 360, "view": {"fill": "#C4C4C4", "stroke": "black", "strokeWidth": 2}, "data": {"values": [{"t": "Lake Trout"}]}, "mark": {"type": "text", "fontSize": 33, "font": "Liberation Sans", "color": "#1A1A1A", "angle": 90}, "encoding": {"text": {"field": "t", "type": "nominal"}}}
          ]
        }
      ]
    },
    {
      "spacing": 20,
      "title": {"text": "Fork Length (mm)", "orient": "bottom", "anchor": "middle", "frame": "bounds", "offset": 12, "dx": -5, "fontSize": 41.5, "font": "Liberation Sans", "fontWeight": "normal", "color": "#000000"},
      "hconcat": [
        {
          "width": 302, "height": 360,
          "resolve": {"axis": {"x": "independent", "y": "independent"}},
          "layer": [
            {"data": {"name": "bins"}, "mark": {"type": "rect", "fill": "white", "stroke": "white", "strokeWidth": 4.8},
             "encoding": {
               "x": {"field": "lo", "type": "quantitative", "scale": {"domain": [168, 894], "nice": false, "zero": false}, "axis": {"orient": "bottom", "values": [200, 400, 600, 800], "grid": true, "gridColor": "#E5E5E5", "gridWidth": 1.8, "labels": false, "ticks": false, "domain": false, "title": null}},
               "x2": {"field": "hi"},
               "y": {"datum": 0, "type": "quantitative", "scale": {"domain": [-2, 42], "nice": false, "zero": false}, "axis": {"orient": "left", "values": [5, 15, 25, 35], "grid": true, "gridColor": "#E5E5E5", "gridWidth": 1.8, "labels": false, "ticks": false, "domain": false, "title": null}},
               "y2": {"datum": 0}}},
            {"data": {"name": "fish"},
             "transform": [{"filter": "datum.sp === 'Rainbow Trout' && datum.yr === 2013"}, {"calculate": "indexof(['None','T-Bar Only','Acoustic and T-Bar'], datum.tag)", "as": "ord"}],
             "mark": {"type": "bar", "stroke": "white", "strokeWidth": 4.8, "binSpacing": 0},
             "encoding": {
               "x": {"field": "lo", "type": "quantitative", "bin": {"binned": true}, "scale": {"domain": [168, 894], "nice": false, "zero": false}, "axis": {"orient": "bottom", "values": [300, 500, 700], "grid": true, "labels": true, "ticks": true, "domain": false, "title": null}},
               "x2": {"field": "hi"},
               "y": {"field": "n", "type": "quantitative", "stack": "zero", "scale": {"domain": [-2, 42], "nice": false, "zero": false}, "axis": {"orient": "left", "values": [0, 10, 20, 30, 40], "grid": true, "labels": true, "ticks": true, "domain": false, "title": null}},
               "color": {"field": "tag", "type": "nominal", "scale": {"domain": ["Acoustic and T-Bar", "T-Bar Only", "None"], "range": ["#000000", "#FF0000", "#0000FF"]}, "legend": {"title": "Tag Type:", "orient": "none", "legendX": 160, "legendY": 1362, "direction": "horizontal", "titleOrient": "left", "titleAnchor": "middle", "titleBaseline": "middle", "symbolStrokeColor": "#C4C4C4", "symbolStrokeWidth": 5}},
               "order": {"field": "ord", "type": "quantitative", "sort": "ascending"}}}
          ]
        },
        {
          "width": 302, "height": 360,
          "resolve": {"axis": {"x": "independent", "y": "independent"}},
          "layer": [
            {"data": {"name": "bins"}, "mark": {"type": "rect", "fill": "white", "stroke": "white", "strokeWidth": 4.8},
             "encoding": {
               "x": {"field": "lo", "type": "quantitative", "scale": {"domain": [168, 894], "nice": false, "zero": false}, "axis": {"orient": "bottom", "values": [200, 400, 600, 800], "grid": true, "gridColor": "#E5E5E5", "gridWidth": 1.8, "labels": false, "ticks": false, "domain": false, "title": null}},
               "x2": {"field": "hi"},
               "y": {"datum": 0, "type": "quantitative", "scale": {"domain": [-2, 42], "nice": false, "zero": false}, "axis": {"orient": "left", "values": [5, 15, 25, 35], "grid": true, "gridColor": "#E5E5E5", "gridWidth": 1.8, "labels": false, "ticks": false, "domain": false, "title": null}},
               "y2": {"datum": 0}}},
            {"data": {"name": "fish"},
             "transform": [{"filter": "datum.sp === 'Rainbow Trout' && datum.yr === 2014"}, {"calculate": "indexof(['None','T-Bar Only','Acoustic and T-Bar'], datum.tag)", "as": "ord"}],
             "mark": {"type": "bar", "stroke": "white", "strokeWidth": 4.8, "binSpacing": 0},
             "encoding": {
               "x": {"field": "lo", "type": "quantitative", "bin": {"binned": true}, "scale": {"domain": [168, 894], "nice": false, "zero": false}, "axis": {"orient": "bottom", "values": [300, 500, 700], "grid": true, "labels": true, "ticks": true, "domain": false, "title": null}},
               "x2": {"field": "hi"},
               "y": {"field": "n", "type": "quantitative", "stack": "zero", "scale": {"domain": [-2, 42], "nice": false, "zero": false}, "axis": {"orient": "left", "values": [0, 10, 20, 30, 40], "grid": true, "labels": false, "ticks": false, "domain": false, "title": null}},
               "color": {"field": "tag", "type": "nominal", "scale": {"domain": ["Acoustic and T-Bar", "T-Bar Only", "None"], "range": ["#000000", "#FF0000", "#0000FF"]}, "legend": {"title": "Tag Type:", "orient": "none", "legendX": 160, "legendY": 1362, "direction": "horizontal", "titleOrient": "left", "titleAnchor": "middle", "titleBaseline": "middle", "symbolStrokeColor": "#C4C4C4", "symbolStrokeWidth": 5}},
               "order": {"field": "ord", "type": "quantitative", "sort": "ascending"}}}
          ]
        },
        {
          "width": 302, "height": 360,
          "resolve": {"axis": {"x": "independent", "y": "independent"}},
          "layer": [
            {"data": {"name": "bins"}, "mark": {"type": "rect", "fill": "white", "stroke": "white", "strokeWidth": 4.8},
             "encoding": {
               "x": {"field": "lo", "type": "quantitative", "scale": {"domain": [168, 894], "nice": false, "zero": false}, "axis": {"orient": "bottom", "values": [200, 400, 600, 800], "grid": true, "gridColor": "#E5E5E5", "gridWidth": 1.8, "labels": false, "ticks": false, "domain": false, "title": null}},
               "x2": {"field": "hi"},
               "y": {"datum": 0, "type": "quantitative", "scale": {"domain": [-2, 42], "nice": false, "zero": false}, "axis": {"orient": "left", "values": [5, 15, 25, 35], "grid": true, "gridColor": "#E5E5E5", "gridWidth": 1.8, "labels": false, "ticks": false, "domain": false, "title": null}},
               "y2": {"datum": 0}}},
            {"data": {"name": "fish"},
             "transform": [{"filter": "datum.sp === 'Rainbow Trout' && datum.yr === 2015"}, {"calculate": "indexof(['None','T-Bar Only','Acoustic and T-Bar'], datum.tag)", "as": "ord"}],
             "mark": {"type": "bar", "stroke": "white", "strokeWidth": 4.8, "binSpacing": 0},
             "encoding": {
               "x": {"field": "lo", "type": "quantitative", "bin": {"binned": true}, "scale": {"domain": [168, 894], "nice": false, "zero": false}, "axis": {"orient": "bottom", "values": [300, 500, 700], "grid": true, "labels": true, "ticks": true, "domain": false, "title": null}},
               "x2": {"field": "hi"},
               "y": {"field": "n", "type": "quantitative", "stack": "zero", "scale": {"domain": [-2, 42], "nice": false, "zero": false}, "axis": {"orient": "left", "values": [0, 10, 20, 30, 40], "grid": true, "labels": false, "ticks": false, "domain": false, "title": null}},
               "color": {"field": "tag", "type": "nominal", "scale": {"domain": ["Acoustic and T-Bar", "T-Bar Only", "None"], "range": ["#000000", "#FF0000", "#0000FF"]}, "legend": {"title": "Tag Type:", "orient": "none", "legendX": 160, "legendY": 1362, "direction": "horizontal", "titleOrient": "left", "titleAnchor": "middle", "titleBaseline": "middle", "symbolStrokeColor": "#C4C4C4", "symbolStrokeWidth": 5}},
               "order": {"field": "ord", "type": "quantitative", "sort": "ascending"}}}
          ]
        },
        {
          "spacing": -2,
          "hconcat": [
            {
              "width": 302, "height": 360,
              "resolve": {"axis": {"x": "independent", "y": "independent"}},
              "layer": [
                {"data": {"name": "bins"}, "mark": {"type": "rect", "fill": "white", "stroke": "white", "strokeWidth": 4.8},
                 "encoding": {
                   "x": {"field": "lo", "type": "quantitative", "scale": {"domain": [168, 894], "nice": false, "zero": false}, "axis": {"orient": "bottom", "values": [200, 400, 600, 800], "grid": true, "gridColor": "#E5E5E5", "gridWidth": 1.8, "labels": false, "ticks": false, "domain": false, "title": null}},
                   "x2": {"field": "hi"},
                   "y": {"datum": 0, "type": "quantitative", "scale": {"domain": [-2, 42], "nice": false, "zero": false}, "axis": {"orient": "left", "values": [5, 15, 25, 35], "grid": true, "gridColor": "#E5E5E5", "gridWidth": 1.8, "labels": false, "ticks": false, "domain": false, "title": null}},
                   "y2": {"datum": 0}}},
                {"data": {"name": "fish"},
                 "transform": [{"filter": "datum.sp === 'Rainbow Trout' && datum.yr === 2016"}, {"calculate": "indexof(['None','T-Bar Only','Acoustic and T-Bar'], datum.tag)", "as": "ord"}],
                 "mark": {"type": "bar", "stroke": "white", "strokeWidth": 4.8, "binSpacing": 0},
                 "encoding": {
                   "x": {"field": "lo", "type": "quantitative", "bin": {"binned": true}, "scale": {"domain": [168, 894], "nice": false, "zero": false}, "axis": {"orient": "bottom", "values": [300, 500, 700], "grid": true, "labels": true, "ticks": true, "domain": false, "title": null}},
                   "x2": {"field": "hi"},
                   "y": {"field": "n", "type": "quantitative", "stack": "zero", "scale": {"domain": [-2, 42], "nice": false, "zero": false}, "axis": {"orient": "left", "values": [0, 10, 20, 30, 40], "grid": true, "labels": false, "ticks": false, "domain": false, "title": null}},
                   "color": {"field": "tag", "type": "nominal", "scale": {"domain": ["Acoustic and T-Bar", "T-Bar Only", "None"], "range": ["#000000", "#FF0000", "#0000FF"]}, "legend": {"title": "Tag Type:", "orient": "none", "legendX": 160, "legendY": 1362, "direction": "horizontal", "titleOrient": "left", "titleAnchor": "middle", "titleBaseline": "middle", "symbolStrokeColor": "#C4C4C4", "symbolStrokeWidth": 5}},
                   "order": {"field": "ord", "type": "quantitative", "sort": "ascending"}}}
              ]
            },
            {"width": 64, "height": 360, "view": {"fill": "#C4C4C4", "stroke": "black", "strokeWidth": 2}, "data": {"values": [{"t": "Rainbow Trout"}]}, "mark": {"type": "text", "fontSize": 33, "font": "Liberation Sans", "color": "#1A1A1A", "angle": 90}, "encoding": {"text": {"field": "t", "type": "nominal"}}}
          ]
        }
      ]
    }
  ]
}
